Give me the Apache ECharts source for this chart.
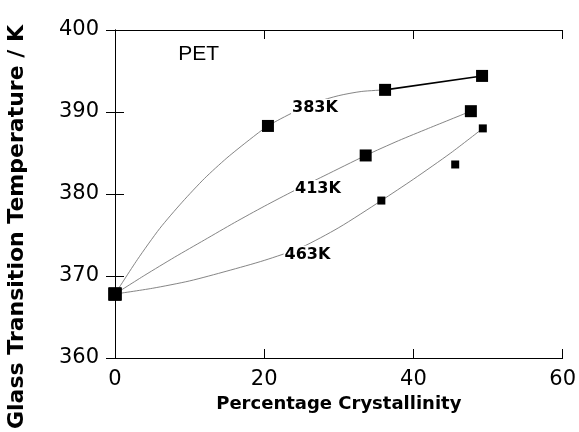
<!DOCTYPE html>
<html>
<head>
<meta charset="utf-8">
<script src="https://cdn.jsdelivr.net/npm/echarts@6/dist/echarts.min.js"></script>
<style>
  html, body { margin: 0; padding: 0; background: #fff; }
  #chart { width: 579px; height: 432px; }
</style>
</head>
<body>
<div id="chart"></div>
<script>
// measured points (crystallinity %, Tg K)
const x383 = [0, 20.5, 36.2, 49.2]
const y383 = [367.8, 388.3, 392.7, 394.4]
const x413 = [0, 33.6, 47.7]
const y413 = [367.8, 384.7, 390.1]
const x463 = [0, 35.7, 45.6, 49.3]
const y463 = [367.8, 379.2, 383.6, 388.0]

// fitted curves
const fit383X = [0, 3, 6, 9, 12, 15, 18, 20.5, 24, 27, 30, 33, 36.2]
const fit383Y = [367.8, 372.0, 375.8, 379.0, 381.9, 384.4, 386.6, 388.3, 390.0, 391.2, 392.0, 392.5, 392.7]
const solid383X = [36.2, 49.2]
const solid383Y = [392.7, 394.4]
const fit413X = [0, 4, 8, 12, 16, 20, 24, 28, 33.6, 38, 42, 47.7]
const fit413Y = [367.8, 370.1, 372.3, 374.4, 376.5, 378.5, 380.4, 382.2, 384.7, 386.5, 388.0, 390.1]
const fit463X = [0, 5, 10, 15, 20, 25, 30, 35.7, 40, 45, 49.3]
const fit463Y = [367.8, 368.5, 369.4, 370.6, 371.9, 373.5, 375.9, 379.2, 381.8, 385.0, 388.0]

// annotation text and where it sits (data coords)
const noteText = ['PET', '383K', '413K', '463K']
const noteX = [11.2, 26.8, 27.2, 25.8]
const noteY = [397.0, 390.5, 380.6, 372.6]

const xTicks = [0, 20, 40, 60]
const yTicks = [360, 370, 380, 390, 400]

const zip = (a, b) => a.map((v, i) => [v, b[i]])

const chart = echarts.init(document.getElementById('chart'))

const tickStyle = { show: true, inside: true, length: 9, lineStyle: { color: '#000', width: 1 } }
const lineAxis = { show: true, lineStyle: { color: '#000', width: 1 } }
const labelFont = { color: '#000', fontFamily: 'DejaVu Sans', fontSize: 21 }

const curve = (pts, color, width) => ({
    type: 'line',
    data: pts,
    smooth: 0.25,
    showSymbol: false,
    silent: true,
    lineStyle: { color: color, width: width, opacity: 1 },
    z: 2
})

const marks = (pts, size) => ({
    type: 'scatter',
    data: pts,
    symbol: 'rect',
    symbolSize: (v) => (v[0] === 0 ? 13 : size),
    itemStyle: { color: '#000', opacity: 1 },
    z: 4
})

chart.setOption({
    animation: false,
    backgroundColor: '#fff',
    grid: { left: 115, right: 16, top: 30, bottom: 74 },
    xAxis: [
        {
            type: 'value', min: xTicks[0], max: xTicks[xTicks.length - 1], interval: 20,
            axisLine: lineAxis, axisTick: tickStyle, splitLine: { show: false },
            axisLabel: Object.assign({ margin: 11 }, labelFont),
            name: 'Percentage Crystallinity', nameLocation: 'middle', nameGap: 28,
            nameTextStyle: { color: '#000', fontFamily: 'DejaVu Sans', fontWeight: 'bold', fontSize: 18 }
        },
        {
            type: 'value', position: 'top', min: 0, max: 60, interval: 20,
            axisLine: lineAxis, axisTick: tickStyle, splitLine: { show: false },
            axisLabel: { show: false }
        }
    ],
    yAxis: [
        {
            type: 'value', min: yTicks[0], max: yTicks[yTicks.length - 1], interval: 10,
            axisLine: lineAxis, axisTick: tickStyle, splitLine: { show: false },
            axisLabel: Object.assign({ margin: 16 }, labelFont)
        },
        {
            type: 'value', position: 'right', min: 360, max: 400, interval: 10,
            axisLine: lineAxis, axisTick: tickStyle, splitLine: { show: false },
            axisLabel: { show: false }
        }
    ],
    graphic: [{
        type: 'text',
        x: 17, y: 227,
        rotation: Math.PI / 2,
        style: {
            text: 'Glass Transition Temperature / K',
            fill: '#000',
            font: 'bold 22px "DejaVu Sans"',
            textAlign: 'center',
            textVerticalAlign: 'middle'
        }
    }],
    series: [
        curve(zip(fit383X, fit383Y), '#777', 0.9),
        curve(zip(solid383X, solid383Y), '#000', 1.6),
        curve(zip(fit413X, fit413Y), '#777', 0.9),
        curve(zip(fit463X, fit463Y), '#777', 0.9),
        marks(zip(x383, y383), 12),
        marks(zip(x413, y413), 12),
        marks(zip(x463, y463), 8),
        {
            type: 'scatter',
            symbolSize: 0,
            silent: true,
            z: 5,
            itemStyle: { opacity: 1 },
            data: noteText.map((t, i) => ({
                value: [noteX[i], noteY[i]],
                label: {
                    show: true, position: 'inside', formatter: t, color: '#000', opacity: 1,
                    backgroundColor: i === 0 ? 'transparent' : '#fff', padding: [1, 1],
                    fontFamily: i === 0 ? 'Liberation Sans' : 'DejaVu Sans',
                    fontWeight: i === 0 ? 'normal' : 'bold',
                    fontSize: i === 0 ? 21 : 16
                }
            }))
        }
    ]
})
</script>
</body>
</html>
